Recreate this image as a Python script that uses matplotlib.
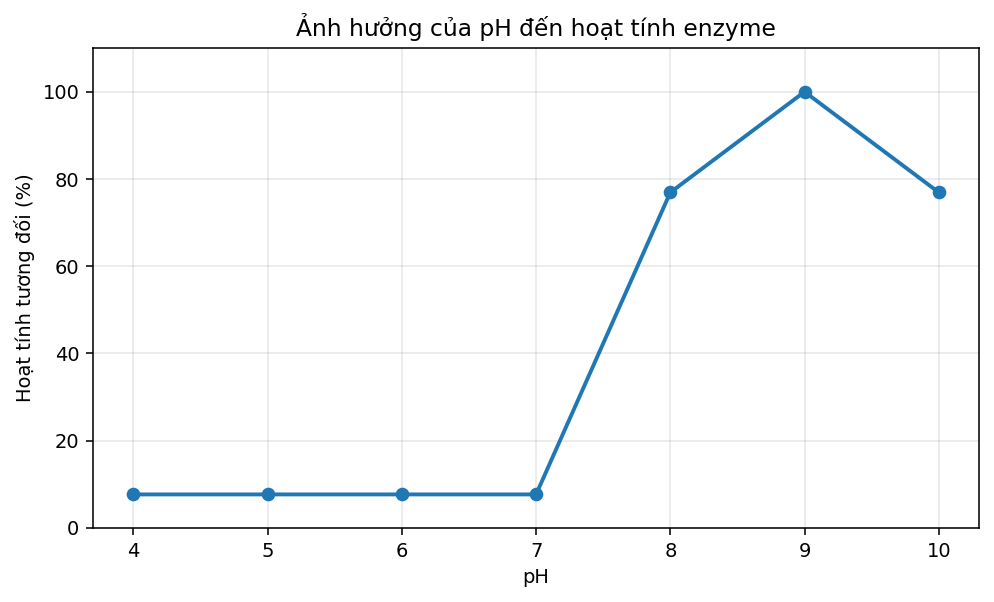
import matplotlib
matplotlib.use("Agg")
import matplotlib.pyplot as plt

ph = [4, 5, 6, 7, 8, 9, 10]
activity = [7.69, 7.69, 7.69, 7.69, 76.92, 100.0, 76.92]

fig, ax = plt.subplots(figsize=(7.1, 4.3), dpi=140)
ax.plot(ph, activity, marker="o", linewidth=2, color="#1f77b4")
ax.set_title("Ảnh hưởng của pH đến hoạt tính enzyme", fontsize=12)
ax.set_xlabel("pH")
ax.set_ylabel("Hoạt tính tương đối (%)")
ax.set_ylim(0, 110)
ax.set_xticks(ph)
ax.grid(True, alpha=0.3)
fig.subplots_adjust(left=0.0936, right=0.985, top=0.920, bottom=0.123)
fig.savefig("out.png")
